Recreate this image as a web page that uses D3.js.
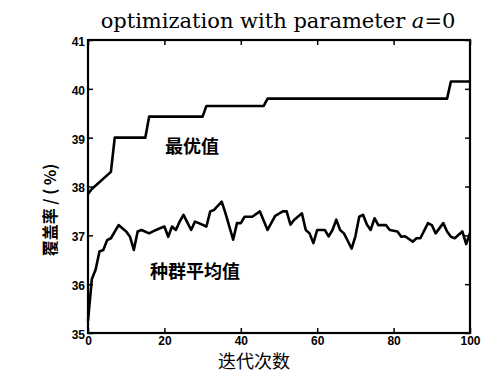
<!DOCTYPE html>
<html>
<head>
<meta charset="utf-8">
<script src="https://cdn.jsdelivr.net/npm/d3@7"></script>
<style>
  body { margin: 0; background: #fff; }
  svg { display: block; }
</style>
</head>
<body>
<svg id="chart"></svg>
<script>
// best value (step curve)
var bestIter = [0, 1, 6, 7, 15, 16, 30, 31, 46, 47, 94, 95, 100]
var bestVal = [37.85, 37.95, 38.3, 39.0, 39.0, 39.43, 39.43, 39.65, 39.65, 39.8, 39.8, 40.15, 40.15]

// population average
var popIter = [0, 1, 2, 3, 4, 5, 6, 8, 10, 11, 12, 13, 14, 16, 17, 19, 20, 21, 22, 23, 24, 25, 27, 28, 29, 31, 32, 33, 35, 36, 37, 38, 39, 40, 41, 43, 45, 47, 49,
  51, 52, 53, 54, 56, 57, 58, 59, 60, 62, 63, 64, 65, 66, 67, 69, 70, 71, 72, 73, 74, 75, 76, 78, 79, 81, 82, 83, 85, 86, 87, 89, 90, 91, 93, 94, 95, 96, 98, 99, 100]
var popVal = [35.25, 36.1, 36.3, 36.67, 36.7, 36.9, 36.94, 37.21, 37.08, 36.97, 36.7, 37.08, 37.11, 37.04, 37.08, 37.15, 37.18, 36.97, 37.18, 37.11, 37.28, 37.42, 37.11, 37.28, 37.25, 37.18, 37.49, 37.52, 37.69, 37.45, 37.18, 36.91, 37.25, 37.25, 37.38, 37.38, 37.49, 37.11, 37.4,
  37.49, 37.49, 37.22, 37.32, 37.45, 37.11, 37.04, 36.84, 37.11, 37.11, 36.98, 37.11, 37.32, 37.11, 37.04, 36.73, 36.98, 37.38, 37.42, 37.22, 37.11, 37.35, 37.21, 37.21, 37.11, 37.08, 36.97, 36.98, 36.87, 36.94, 36.94, 37.25, 37.21, 37.04, 37.25, 37.08, 36.97, 36.94, 37.08, 36.82, 37.05]

var xTicks = [0, 20, 40, 60, 80, 100]
var yTicks = [35, 36, 37, 38, 39, 40, 41]

var W = 486, H = 374
var box = { left: 88, right: 470, top: 40, bottom: 333 }

var svg = d3.select("#chart").attr("width", W).attr("height", H)

var x = d3.scaleLinear().domain([0, 100]).range([box.left, box.right])
var y = d3.scaleLinear().domain([35, 41]).range([box.bottom, box.top])

var tickFont = "'Liberation Sans', Arial, sans-serif"

function styleAxis(g){
  g.select(".domain").remove()
  g.selectAll("line").attr("stroke", "#000").attr("stroke-width", 1.5)
  g.selectAll("text")
    .attr("fill", "#000")
    .style("font-family", tickFont)
    .style("font-size", "12px")
    .style("font-weight", "bold")
}

svg.append("g")
  .attr("transform", `translate(0,${box.bottom})`)
  .call(d3.axisBottom(x).tickValues(xTicks).tickFormat(d3.format("d")).tickSizeInner(-5).tickSizeOuter(0).tickPadding(3))
  .call(styleAxis)

svg.append("g")
  .attr("transform", `translate(${box.left},0)`)
  .call(d3.axisLeft(y).tickValues(yTicks).tickFormat(d3.format("d")).tickSizeInner(-5).tickSizeOuter(0).tickPadding(3))
  .call(styleAxis)
  .selectAll("text").attr("dy", "0.45em")

svg.append("g")
  .attr("transform", `translate(0,${box.top})`)
  .call(d3.axisTop(x).tickValues(xTicks).tickSizeInner(-5).tickSizeOuter(0).tickFormat(""))
  .call(styleAxis)

svg.append("g")
  .attr("transform", `translate(${box.right},0)`)
  .call(d3.axisRight(y).tickValues(yTicks).tickSizeInner(-5).tickSizeOuter(0).tickFormat(""))
  .call(styleAxis)

svg.append("rect")
  .attr("x", box.left)
  .attr("y", box.top)
  .attr("width", box.right - box.left)
  .attr("height", box.bottom - box.top)
  .attr("fill", "none")
  .attr("stroke", "#000")
  .attr("stroke-width", 2.2)

var line = d3.line()
  .x(d => x(d[0]))
  .y(d => y(d[1]))

svg.append("path")
  .datum(bestIter.map((d, i) => [d, bestVal[i]]))
  .attr("d", line)
  .attr("fill", "none")
  .attr("stroke", "#000")
  .attr("stroke-width", 2.6)
  .attr("stroke-linejoin", "round")

svg.append("path")
  .datum(popIter.map((d, i) => [d, popVal[i]]))
  .attr("d", line)
  .attr("fill", "none")
  .attr("stroke", "#000")
  .attr("stroke-width", 2.6)
  .attr("stroke-linejoin", "round")

var cjk = "'Noto Sans CJK SC', sans-serif"

svg.append("text")
  .attr("x", 192).attr("y", 153)
  .attr("text-anchor", "middle")
  .style("font-family", cjk)
  .style("font-size", "18px")
  .style("font-weight", "bold")
  .text("最优值")

svg.append("text")
  .attr("x", 195).attr("y", 278)
  .attr("text-anchor", "middle")
  .style("font-family", cjk)
  .style("font-size", "18px")
  .style("font-weight", "bold")
  .text("种群平均值")

// title
var title = svg.append("text")
  .attr("x", 278).attr("y", 28)
  .attr("text-anchor", "middle")
  .style("font-family", "'DejaVu Serif', 'Liberation Serif', serif")
  .style("font-size", "21px")
  .text("optimization with parameter ")
title.append("tspan").style("font-style", "italic").text("a")
title.append("tspan").text("=0")

svg.append("text")
  .attr("x", 254).attr("y", 368)
  .attr("text-anchor", "middle")
  .style("font-family", cjk)
  .style("font-size", "18px")
  .text("迭代次数")

svg.append("text")
  .attr("transform", "translate(56,210) rotate(-90)")
  .attr("text-anchor", "middle")
  .style("font-family", cjk)
  .style("font-size", "16px")
  .style("font-weight", "bold")
  .text("覆盖率 / ( %)")
</script>
</body>
</html>
